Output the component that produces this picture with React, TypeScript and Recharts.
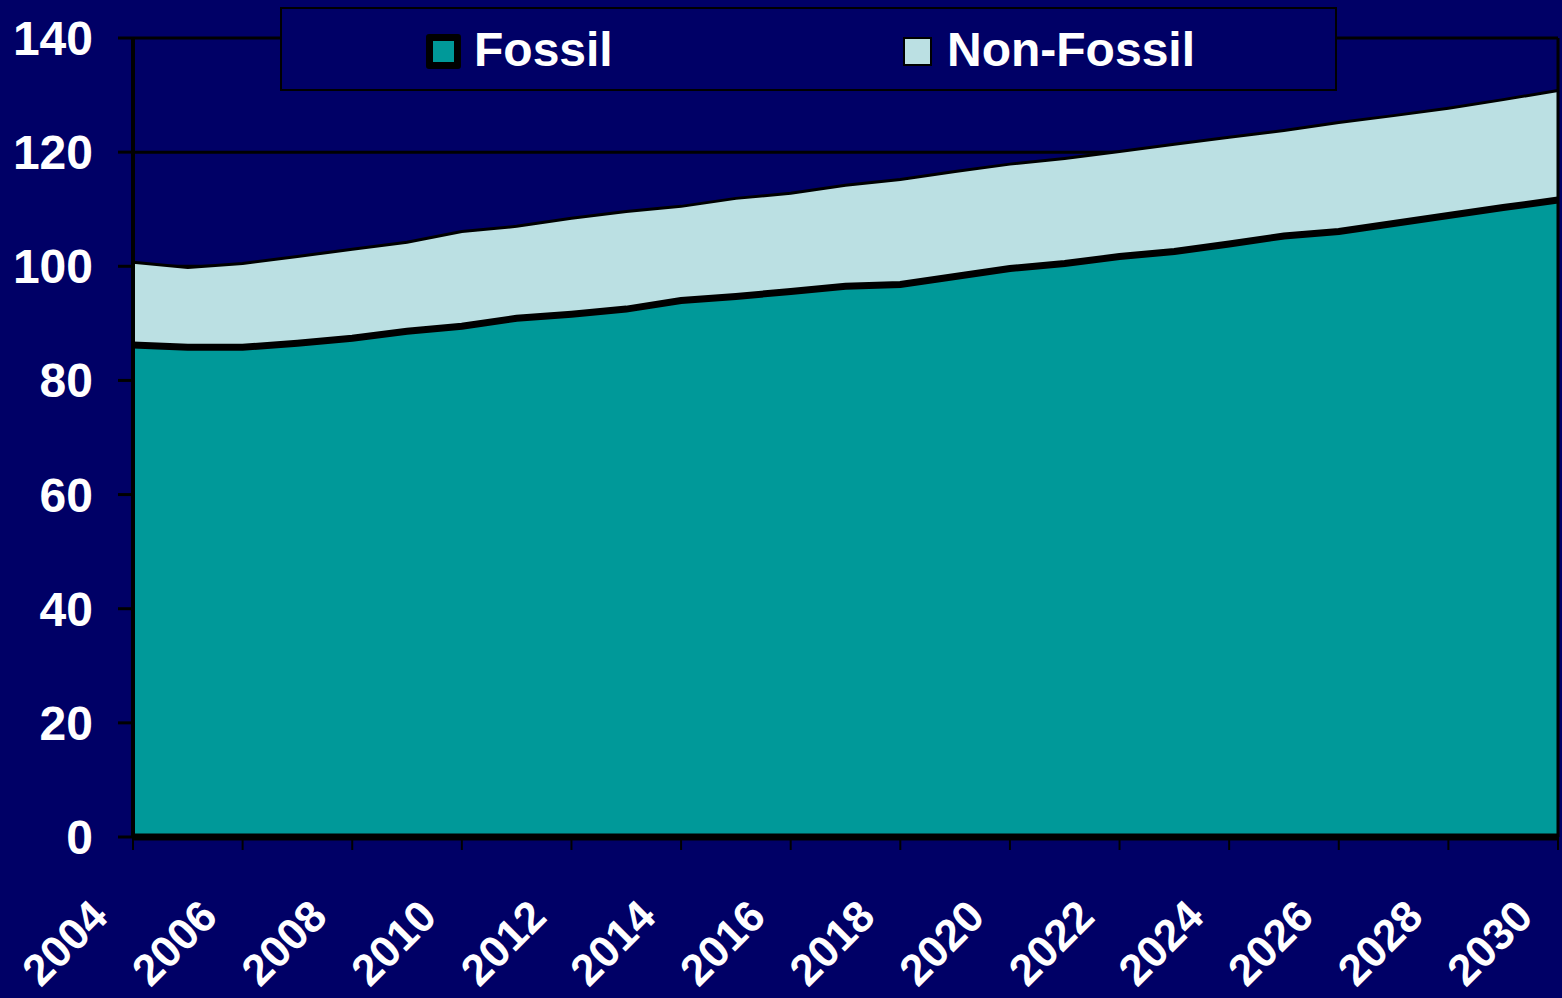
import { Area, CartesianGrid, ComposedChart, Legend, Line, ReferenceLine, XAxis, YAxis } from "recharts"

const years = [
    2004, 2005, 2006, 2007, 2008, 2009, 2010, 2011, 2012, 2013, 2014, 2015, 2016, 2017,
    2018, 2019, 2020, 2021, 2022, 2023, 2024, 2025, 2026, 2027, 2028, 2029, 2030,
]
const fossil = [
    86.2, 85.8, 85.8, 86.5, 87.4, 88.6, 89.5, 90.9, 91.6, 92.5, 94.0, 94.7, 95.6, 96.5,
    96.8, 98.2, 99.6, 100.5, 101.7, 102.6, 103.9, 105.3, 106.1, 107.5, 108.9, 110.3, 111.6,
]
const nonFossil = [
    14.5, 14.0, 14.7, 15.2, 15.6, 15.6, 16.6, 16.1, 16.8, 17.1, 16.5, 17.2, 17.2, 17.7,
    18.4, 18.4, 18.3, 18.4, 18.4, 18.8, 18.7, 18.5, 19.1, 18.9, 18.8, 18.9, 19.2,
]
const xTicks = [2004, 2006, 2008, 2010, 2012, 2014, 2016, 2018, 2020, 2022, 2024, 2026, 2028, 2030]
const yTicks = [0, 20, 40, 60, 80, 100, 120, 140]

const NAVY = "#000066"
const FOSSIL = "#009999"
const NON_FOSSIL = "#BBE0E3"
const FONT = "'Liberation Sans', Arial, sans-serif"

const data = years.map((year, i) => ({ year, fossil: fossil[i], nonFossil: nonFossil[i] }))

function YearTick({ x, y, payload }: any) {
    return (
        <g transform={`translate(${x - 23},${y + 67}) rotate(-45)`}>
            <text x={0} y={0} textAnchor="end" fill="#fff" fontSize={44} fontWeight="bold" fontFamily={FONT}>
                {payload.value}
            </text>
        </g>
    )
}

function LegendBox() {
    const label = { position: "absolute" as const, top: 16, color: "#fff", fontSize: 48, fontWeight: "bold" as const, fontFamily: FONT, lineHeight: "50px" }
    return (
        <div style={{ position: "relative", width: 1057, height: 84, boxSizing: "border-box", border: "2px solid #000", background: NAVY }}>
            <span style={{ position: "absolute", left: 144, top: 25, width: 21, height: 21, background: FOSSIL, border: "7px solid #000", borderRadius: 3 }} />
            <span style={{ ...label, left: 192 }}>Fossil</span>
            <span style={{ position: "absolute", left: 621, top: 28, width: 25, height: 25, background: NON_FOSSIL, border: "2px solid #000" }} />
            <span style={{ ...label, left: 665 }}>Non-Fossil</span>
        </div>
    )
}

export default function App() {
    return (
        <div style={{ position: "absolute", left: 0, top: 0, width: 1562, height: 998, background: NAVY, overflow: "hidden" }}>
            <ComposedChart width={1562} height={998} data={data} margin={{ top: 38, right: 4, left: 0, bottom: 0 }}>
                <CartesianGrid vertical={false} stroke="#000" strokeWidth={3} />
                <XAxis
                    dataKey="year"
                    type="number"
                    domain={[2004, 2030]}
                    ticks={xTicks}
                    height={161}
                    axisLine={{ stroke: "#000", strokeWidth: 7 }}
                    tickLine={{ stroke: "#000", strokeWidth: 2 }}
                    tickSize={13}
                    tick={<YearTick />}
                    interval={0}
                />
                <YAxis
                    domain={[0, 140]}
                    ticks={yTicks}
                    width={133}
                    axisLine={{ stroke: "#000", strokeWidth: 4 }}
                    tickLine={{ stroke: "#000", strokeWidth: 3 }}
                    tickSize={15}
                    tickMargin={25}
                    tick={{ fill: "#fff", fontSize: 48, fontWeight: "bold", fontFamily: FONT }}
                    interval={0}
                />
                <Legend
                    layout="vertical"
                    align="center"
                    verticalAlign="middle"
                    wrapperStyle={{ position: "absolute", top: 7, left: 280, width: 1057, height: 84 }}
                    content={() => <LegendBox />}
                />
                <Area
                    type="linear"
                    dataKey="fossil"
                    name="Fossil"
                    stackId="1"
                    fill={FOSSIL}
                    fillOpacity={1}
                    stroke="#000"
                    strokeWidth={3}
                    isAnimationActive={false}
                />
                <Area
                    type="linear"
                    dataKey="nonFossil"
                    name="Non-Fossil"
                    stackId="1"
                    fill={NON_FOSSIL}
                    fillOpacity={1}
                    stroke="#000"
                    strokeWidth={3}
                    isAnimationActive={false}
                />
                {/* thick outline on top of the fossil band */}
                <Line
                    type="linear"
                    dataKey="fossil"
                    stroke="#000"
                    strokeWidth={7}
                    dot={false}
                    activeDot={false}
                    legendType="none"
                    isAnimationActive={false}
                />
                <ReferenceLine x={2030} stroke="#000" strokeWidth={3} />
            </ComposedChart>
        </div>
    )
}
